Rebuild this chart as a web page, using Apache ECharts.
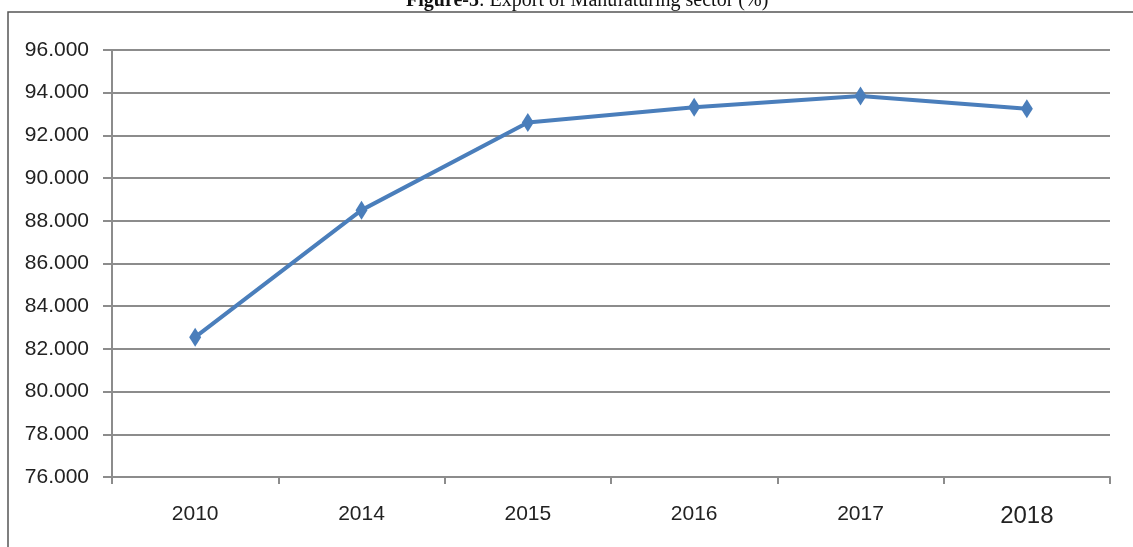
<!DOCTYPE html>
<html>
<head>
<meta charset="utf-8">
<script src="https://cdn.jsdelivr.net/npm/echarts@6/dist/echarts.min.js"></script>
<style>
  html, body { margin: 0; padding: 0; background: #fff; }
  #chart { width: 1133px; height: 547px; }
</style>
</head>
<body>
<div id="chart"></div>
<script>
// data
const years = ['2010', '2014', '2015', '2016', '2017', '2018'];
const exportShare = [82.55, 88.5, 92.6, 93.32, 93.85, 93.25];
const yMin = 76;
const yMax = 96;
const yStep = 2;

const gridColor = '#8c8c8c';
const lineColor = '#4a7ebb';

const chart = echarts.init(document.getElementById('chart'));
chart.setOption({
    animation: false,
    title: {
        text: '{b|Figure-5}: Export of Manufaturing sector (%)',
        left: 406,
        top: -9,
        padding: 0,
        textStyle: {
            fontFamily: 'Liberation Serif',
            fontSize: 20,
            fontWeight: 'normal',
            color: '#111',
            rich: {
                b: { fontFamily: 'Liberation Serif', fontSize: 20, fontWeight: 'bold', color: '#111' }
            }
        }
    },
    graphic: [
        {
            type: 'rect',
            shape: { x: 8, y: 12, width: 1200, height: 600 },
            style: { fill: 'none', stroke: '#555', lineWidth: 1.5 },
            silent: true
        }
    ],
    grid: { left: 112, right: 23, top: 50, bottom: 70 },
    xAxis: {
        type: 'category',
        data: years,
        boundaryGap: true,
        axisLine: { lineStyle: { color: gridColor, width: 2 } },
        axisTick: { show: true, length: 7, lineStyle: { color: gridColor, width: 2 } },
        axisLabel: {
            margin: 27,
            fontFamily: 'Liberation Sans',
            fontSize: 21,
            color: '#222',
            formatter: function (v, i) {
                return i === years.length - 1 ? '{big|' + v + '}' : v;
            },
            rich: {
                big: { fontFamily: 'Liberation Sans', fontSize: 24, color: '#222', padding: [0, 0, 6, 0] }
            }
        }
    },
    yAxis: {
        type: 'value',
        min: yMin,
        max: yMax,
        interval: yStep,
        axisLine: { show: true, lineStyle: { color: gridColor, width: 2 } },
        axisTick: { show: true, length: 9, lineStyle: { color: gridColor, width: 2 } },
        splitLine: { lineStyle: { color: gridColor, width: 2 } },
        axisLabel: {
            margin: 23,
            fontFamily: 'Liberation Sans',
            fontSize: 21,
            color: '#222',
            formatter: function (v) { return v.toFixed(3); }
        }
    },
    series: [
        {
            type: 'line',
            data: exportShare,
            symbol: 'diamond',
            symbolSize: [12, 19],
            lineStyle: { color: lineColor, width: 4 },
            itemStyle: { color: lineColor },
            z: 5
        }
    ]
});
</script>
</body>
</html>
